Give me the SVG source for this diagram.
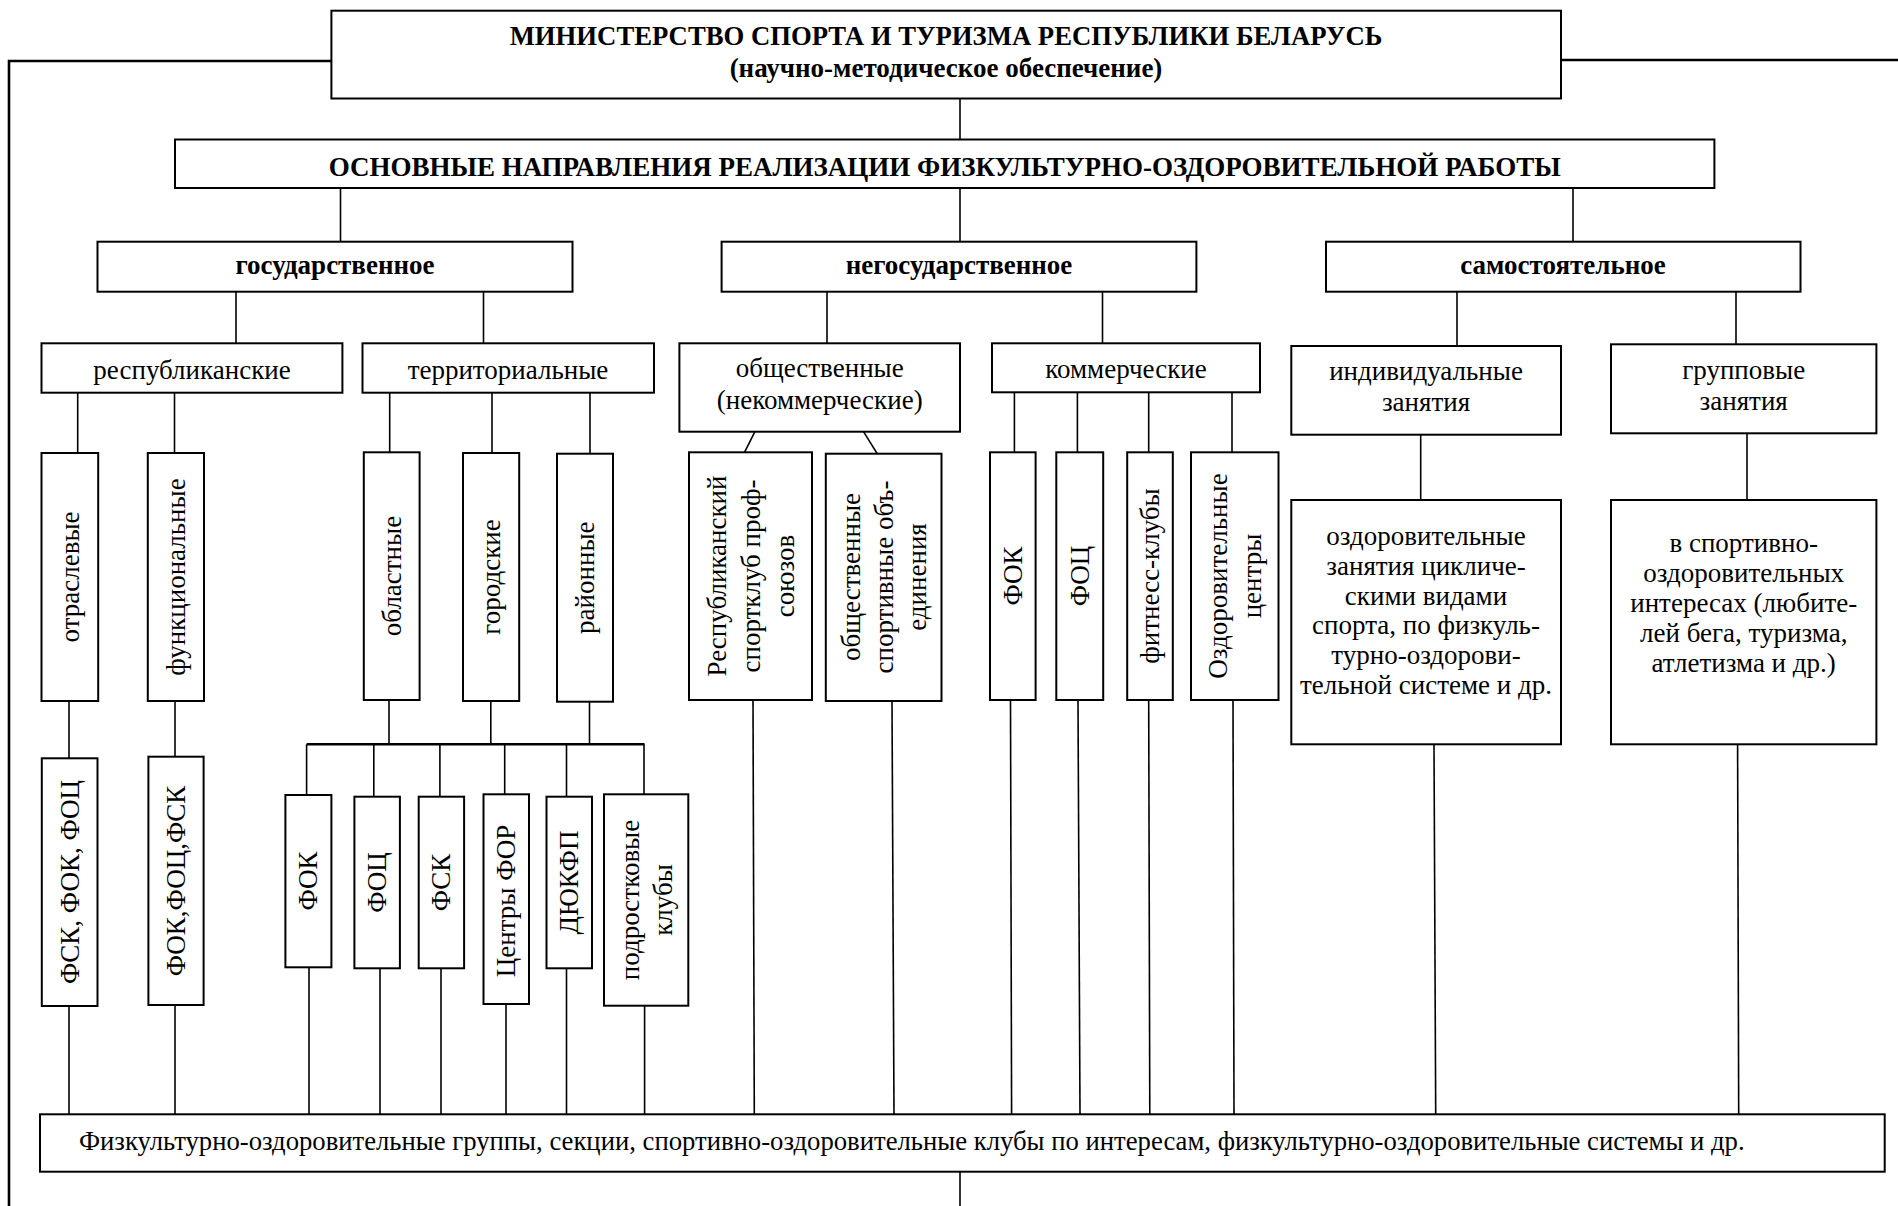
<svg xmlns="http://www.w3.org/2000/svg" width="1898" height="1206" viewBox="0 0 1898 1206">
<style>
.box{fill:#fff;stroke:#000;stroke-width:2}
.ln{stroke:#000;stroke-width:1.6;fill:none}
.lt{stroke:#000;stroke-width:2.6;fill:none}
text{font-family:"Liberation Serif","Times New Roman",serif;font-size:27px;fill:#000}
.c{text-anchor:middle}
.b{font-weight:bold}
.v{text-anchor:middle;dominant-baseline:central}
</style>
<rect width="1898" height="1206" fill="#fff"/>
<g id="connectors">
<polyline class="lt" points="331,61 9,61 9,1206"/>
<line class="lt" x1="1561" y1="60" x2="1898" y2="60"/>
<line class="ln" x1="960" y1="98.5" x2="960" y2="139.5"/>
<line class="ln" x1="340.5" y1="188" x2="340.5" y2="241.7"/>
<line class="ln" x1="960" y1="188" x2="960" y2="241.7"/>
<line class="ln" x1="1573" y1="188" x2="1573" y2="241.7"/>
<line class="ln" x1="236" y1="291.7" x2="236" y2="343.3"/>
<line class="ln" x1="483.5" y1="291.7" x2="483.5" y2="343.3"/>
<line class="ln" x1="827" y1="291.7" x2="827" y2="343.3"/>
<line class="ln" x1="1102.5" y1="291.7" x2="1102.5" y2="343.3"/>
<line class="ln" x1="1457" y1="291.7" x2="1457" y2="346"/>
<line class="ln" x1="1736" y1="291.7" x2="1736" y2="344.3"/>
<line class="ln" x1="77.7" y1="392.7" x2="77.7" y2="453"/>
<line class="ln" x1="174.5" y1="392.7" x2="174.5" y2="453"/>
<line class="ln" x1="389.7" y1="392.7" x2="389.7" y2="452.3"/>
<line class="ln" x1="492" y1="392.7" x2="492" y2="453"/>
<line class="ln" x1="590" y1="392.7" x2="590" y2="453.7"/>
<line class="ln" x1="754.9" y1="431.7" x2="744.5" y2="452.3"/>
<line class="ln" x1="863.5" y1="431.7" x2="877.2" y2="453.7"/>
<line class="ln" x1="1014.4" y1="392.3" x2="1014.4" y2="452.3"/>
<line class="ln" x1="1077.4" y1="392.3" x2="1077.4" y2="452.3"/>
<line class="ln" x1="1148.7" y1="392.3" x2="1148.7" y2="452.3"/>
<line class="ln" x1="1232" y1="392.3" x2="1232" y2="452.3"/>
<line class="ln" x1="1420.7" y1="434.7" x2="1420.7" y2="500"/>
<line class="ln" x1="1747" y1="433.3" x2="1747" y2="500"/>
<line class="ln" x1="69" y1="701" x2="69" y2="758.3"/>
<line class="ln" x1="175" y1="701" x2="175" y2="756.7"/>
<line class="ln" x1="389" y1="700" x2="389" y2="744.3"/>
<line class="ln" x1="490.8" y1="701" x2="490.8" y2="744.3"/>
<line class="ln" x1="589.5" y1="701.7" x2="589.5" y2="744.3"/>
<line class="lt" x1="306.6" y1="744.3" x2="644.5" y2="744.3"/>
<line class="ln" x1="306.6" y1="744.3" x2="306.6" y2="795"/>
<line class="ln" x1="373.8" y1="744.3" x2="373.8" y2="796.7"/>
<line class="ln" x1="439.9" y1="744.3" x2="439.9" y2="796.7"/>
<line class="ln" x1="504.7" y1="744.3" x2="504.7" y2="794.3"/>
<line class="ln" x1="566.5" y1="744.3" x2="566.5" y2="796.7"/>
<line class="ln" x1="644" y1="744.3" x2="644" y2="794.3"/>
<line class="ln" x1="69" y1="1006" x2="69" y2="1114.3"/>
<line class="ln" x1="175" y1="1005" x2="175" y2="1114.3"/>
<line class="ln" x1="309" y1="967.3" x2="309" y2="1114.3"/>
<line class="ln" x1="380" y1="968.3" x2="380" y2="1114.3"/>
<line class="ln" x1="441" y1="968.3" x2="441" y2="1114.3"/>
<line class="ln" x1="506" y1="1004" x2="506" y2="1114.3"/>
<line class="ln" x1="566.5" y1="968.3" x2="566.5" y2="1114.3"/>
<line class="ln" x1="644.6" y1="1005.7" x2="644.6" y2="1114.3"/>
<line class="ln" x1="753" y1="700" x2="754.3" y2="1114.3"/>
<line class="ln" x1="892" y1="701" x2="894" y2="1114.3"/>
<line class="ln" x1="1010.5" y1="700" x2="1011.6" y2="1114.3"/>
<line class="ln" x1="1078" y1="700" x2="1080" y2="1114.3"/>
<line class="ln" x1="1148.7" y1="700" x2="1149.8" y2="1114.3"/>
<line class="ln" x1="1233" y1="700" x2="1234" y2="1114.3"/>
<line class="ln" x1="1434" y1="744.3" x2="1435.7" y2="1114.3"/>
<line class="ln" x1="1737.6" y1="744.3" x2="1738.7" y2="1114.3"/>
<line class="ln" x1="960" y1="1171.7" x2="960" y2="1206"/>
</g>
<g id="ministry">
<rect class="box" x="331.4" y="10.7" width="1229.6" height="87.8"/>
<text class="c b" x="946" y="45" style="font-size:26.7px">МИНИСТЕРСТВО СПОРТА И ТУРИЗМА РЕСПУБЛИКИ БЕЛАРУСЬ</text>
<text class="c b" x="946" y="77">(научно-методическое обеспечение)</text>
</g>
<g id="directions">
<rect class="box" x="175" y="139.5" width="1539.4" height="48.5"/>
<text class="c b" x="944.7" y="176">ОСНОВНЫЕ НАПРАВЛЕНИЯ РЕАЛИЗАЦИИ ФИЗКУЛЬТУРНО-ОЗДОРОВИТЕЛЬНОЙ РАБОТЫ</text>
</g>
<g id="state">
<rect class="box" x="97.5" y="241.7" width="475" height="50"/>
<text class="c b" x="335" y="274">государственное</text>
</g>
<g id="nonstate">
<rect class="box" x="721.6" y="241.7" width="474.8" height="50"/>
<text class="c b" x="959" y="274">негосударственное</text>
</g>
<g id="independent">
<rect class="box" x="1326" y="241.7" width="474.5" height="50"/>
<text class="c b" x="1563" y="274">самостоятельное</text>
</g>
<g id="republican">
<rect class="box" x="41.5" y="343.3" width="300.9" height="49.4"/>
<text class="c" x="192" y="379">республиканские</text>
</g>
<g id="territorial">
<rect class="box" x="362.5" y="343.3" width="291.5" height="49.4"/>
<text class="c" x="508" y="379">территориальные</text>
</g>
<g id="public">
<rect class="box" x="679.4" y="343.3" width="280.6" height="88.4"/>
<text class="c" x="819.7" y="377">общественные</text>
<text class="c" x="819.7" y="409">(некоммерческие)</text>
</g>
<g id="commercial">
<rect class="box" x="992" y="343.3" width="268" height="49"/>
<text class="c" x="1126" y="378">коммерческие</text>
</g>
<g id="individual">
<rect class="box" x="1291.3" y="346" width="269.7" height="88.7"/>
<text class="c" x="1426" y="380">индивидуальные</text>
<text class="c" x="1426" y="411">занятия</text>
</g>
<g id="group">
<rect class="box" x="1611" y="344.3" width="265.4" height="89"/>
<text class="c" x="1743.7" y="379">групповые</text>
<text class="c" x="1743.7" y="410">занятия</text>
</g>
<g id="sectoral">
<rect class="box" x="41.5" y="453" width="56.7" height="248"/>
<text class="v" transform="translate(70,577) rotate(-90)">отраслевые</text>
</g>
<g id="functional">
<rect class="box" x="147.8" y="453" width="56.2" height="248"/>
<text class="v" transform="translate(176,577) rotate(-90)">функциональные</text>
</g>
<g id="regional">
<rect class="box" x="363.8" y="452.3" width="55.8" height="247.7"/>
<text class="v" transform="translate(391.7,576) rotate(-90)">областные</text>
</g>
<g id="city">
<rect class="box" x="463" y="453" width="56.2" height="248"/>
<text class="v" transform="translate(491,577) rotate(-90)">городские</text>
</g>
<g id="district">
<rect class="box" x="557" y="453.7" width="56" height="248"/>
<text class="v" transform="translate(585,577.7) rotate(-90)">районные</text>
</g>
<g id="rep-club">
<rect class="box" x="689" y="452.3" width="123" height="247.7"/>
<text class="v" transform="translate(750.5,576) rotate(-90)"><tspan x="0" y="-34">Республиканский</tspan><tspan x="0" y="0">спортклуб проф-</tspan><tspan x="0" y="34">союзов</tspan></text>
</g>
<g id="public-assoc">
<rect class="box" x="825.8" y="453.7" width="115.7" height="247.3"/>
<text class="v" transform="translate(883.6,577) rotate(-90)"><tspan x="0" y="-33">общественные</tspan><tspan x="0" y="0">спортивные объ-</tspan><tspan x="0" y="33">единения</tspan></text>
</g>
<g id="com-fok">
<rect class="box" x="990" y="452.3" width="45.6" height="247.7"/>
<text class="v" transform="translate(1012.8,576) rotate(-90)">ФОК</text>
</g>
<g id="com-foc">
<rect class="box" x="1056.3" y="452.3" width="46.9" height="247.7"/>
<text class="v" transform="translate(1079.7,576) rotate(-90)">ФОЦ</text>
</g>
<g id="fitness">
<rect class="box" x="1127.2" y="452.3" width="45.6" height="247.7"/>
<text class="v" transform="translate(1150,576) rotate(-90)">фитнесс-клубы</text>
</g>
<g id="health-centers">
<rect class="box" x="1191" y="452.3" width="87.5" height="247.7"/>
<text class="v" transform="translate(1234.7,576) rotate(-90)"><tspan x="0" y="-17">Оздоровительные</tspan><tspan x="0" y="17">центры</tspan></text>
</g>
<g id="individual-desc">
<rect class="box" x="1291.3" y="500" width="269.7" height="244.3"/>
<text class="c" x="1426" y="545">оздоровительные</text>
<text class="c" x="1426" y="574.8">занятия цикличе-</text>
<text class="c" x="1426" y="604.6">скими видами</text>
<text class="c" x="1426" y="634.4">спорта, по физкуль-</text>
<text class="c" x="1426" y="664.2">турно-оздорови-</text>
<text class="c" x="1426" y="694">тельной системе и др.</text>
</g>
<g id="group-desc">
<rect class="box" x="1611" y="500" width="265.4" height="244.3"/>
<text class="c" x="1743.7" y="551.7">в спортивно-</text>
<text class="c" x="1743.7" y="581.7">оздоровительных</text>
<text class="c" x="1743.7" y="611.7">интересах (любите-</text>
<text class="c" x="1743.7" y="641.7">лей бега, туризма,</text>
<text class="c" x="1743.7" y="671.7">атлетизма и др.)</text>
</g>
<g id="sect-fsk">
<rect class="box" x="41.8" y="758.3" width="55.7" height="247.7"/>
<text class="v" transform="translate(69.7,882) rotate(-90)">ФСК, ФОК, ФОЦ</text>
</g>
<g id="func-fok">
<rect class="box" x="148.4" y="756.7" width="55.2" height="248.3"/>
<text class="v" transform="translate(176,881) rotate(-90)">ФОК,ФОЦ,ФСК</text>
</g>
<g id="ter-fok">
<rect class="box" x="285.4" y="795" width="46" height="172.3"/>
<text class="v" transform="translate(308.4,881) rotate(-90)">ФОК</text>
</g>
<g id="ter-foc">
<rect class="box" x="354.4" y="796.7" width="45.5" height="171.6"/>
<text class="v" transform="translate(377.2,882.5) rotate(-90)">ФОЦ</text>
</g>
<g id="ter-fsk">
<rect class="box" x="418.7" y="796.7" width="45.4" height="171.6"/>
<text class="v" transform="translate(441.4,882.5) rotate(-90)">ФСК</text>
</g>
<g id="ter-for">
<rect class="box" x="483.5" y="794.3" width="45.5" height="209.7"/>
<text class="v" transform="translate(506.3,901) rotate(-90)">Центры ФОР</text>
</g>
<g id="ter-dyukfp">
<rect class="box" x="546.5" y="796.7" width="45.5" height="171.6"/>
<text class="v" transform="translate(569.3,882.5) rotate(-90)">ДЮКФП</text>
</g>
<g id="ter-teen">
<rect class="box" x="604" y="794.3" width="84.3" height="211.4"/>
<text class="v" transform="translate(646,900) rotate(-90)"><tspan x="0" y="-16.5">подростковые</tspan><tspan x="0" y="16.5">клубы</tspan></text>
</g>
<g id="groups">
<rect class="box" x="40" y="1114.3" width="1844.7" height="57.4"/>
<text x="79" y="1150" style="font-size:26.7px">Физкультурно-оздоровительные группы, секции, спортивно-оздоровительные клубы по интересам, физкультурно-оздоровительные системы и др.</text>
</g>
</svg>
